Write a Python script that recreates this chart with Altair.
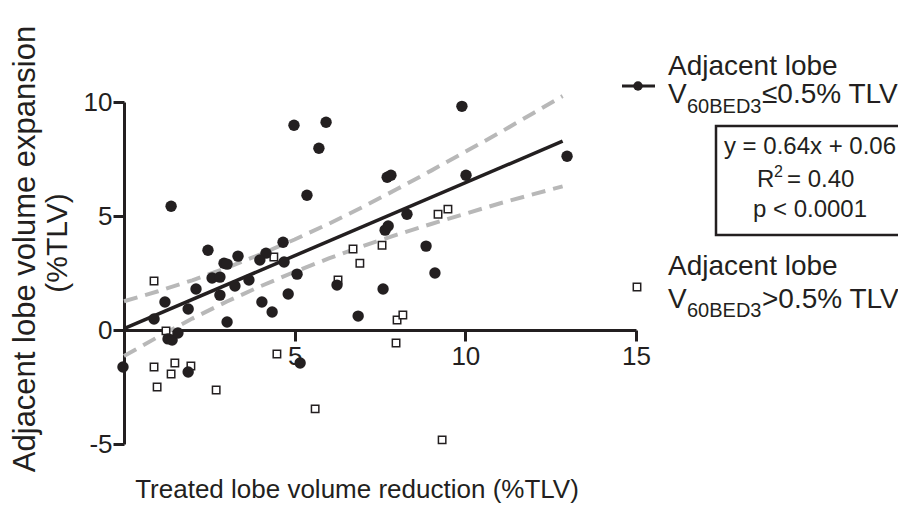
import altair as alt
import pandas as pd

FONT = "Liberation Sans"
INK = "#231f20"
GRAY = "#b8b8b8"

# Adjacent lobe V60BED3 <= 0.5% TLV (filled circles)
circle_x = [-0.03, 1.38, 4.98, 5.36, 5.92, 5.71, 9.90, 7.71, 7.82, 10.02, 12.98, 8.29,
            7.65, 7.74, 8.85, 6.24, 9.11, 7.59, 6.86, 2.46, 4.66, 3.34, 2.93, 3.02,
            4.16, 3.98, 4.69, 2.58, 2.81, 2.11, 3.25, 3.66, 2.81, 5.07, 4.81, 1.20,
            1.88, 4.04, 4.34, 0.88, 3.02, 1.29, 1.41, 1.58, 1.88, 5.16]
circle_y = [-1.62, 5.43, 8.98, 5.91, 9.11, 7.97, 9.81, 6.70, 6.79, 6.79, 7.62, 5.08,
            4.38, 4.56, 3.68, 1.97, 2.50, 1.80, 0.61, 3.50, 3.85, 3.24, 2.93, 2.89,
            3.37, 3.07, 2.98, 2.28, 2.32, 1.80, 1.93, 2.19, 1.53, 2.45, 1.58, 1.23,
            0.92, 1.23, 0.79, 0.48, 0.35, -0.39, -0.44, -0.13, -1.84, -1.45]

# Adjacent lobe V60BED3 > 0.5% TLV (open squares)
square_x = [0.88, 4.39, 6.71, 7.56, 6.91, 6.27, 8.00, 8.17, 7.97, 9.20, 9.49, 1.23,
            0.88, 1.49, 1.38, 1.96, 0.97, 2.70, 4.48, 5.60, 9.32]
square_y = [2.15, 3.20, 3.55, 3.72, 2.93, 2.19, 0.44, 0.66, -0.57, 5.08, 5.30, -0.04,
            -1.62, -1.45, -1.93, -1.58, -2.50, -2.63, -1.05, -3.46, -4.82]

# regression line and 95% confidence band
fit_x = [0, 12.85]
fit_y = [0.06, 8.28]
ci_x = [0, 1, 2, 3, 4, 5, 6, 7, 8, 9, 10, 11, 12, 12.85]
ci_upper = [1.26, 1.70, 2.18, 2.72, 3.32, 3.97, 4.66, 5.40, 6.18, 6.99, 7.82, 8.65, 9.52, 10.26]
ci_lower = [-1.14, -0.30, 0.50, 1.24, 1.92, 2.55, 3.14, 3.68, 4.18, 4.65, 5.10, 5.55, 5.96, 6.30]

x_ticks = [5, 10, 15]
y_ticks = [-5, 0, 5, 10]

W, H = 512, 342

xs = alt.Scale(domain=[0, 15], nice=False, zero=False)
ys = alt.Scale(domain=[-5, 10], nice=False, zero=False)

x_axis = alt.Axis(values=x_ticks, offset=-H / 3, title=None, grid=False,
                  domainColor=INK, domainWidth=3, tickColor=INK, tickWidth=3, tickSize=11,
                  labelFont=FONT, labelFontSize=26, labelColor=INK, labelPadding=2,
                  labelFlush=False)
y_axis = alt.Axis(values=y_ticks, title=None, grid=False,
                  labelExpr="'' + datum.value",
                  domainColor=INK, domainWidth=3, tickColor=INK, tickWidth=3, tickSize=11,
                  labelFont=FONT, labelFontSize=26, labelColor=INK, labelPadding=1,
                  labelFlush=False)

circles_df = pd.DataFrame({"x": circle_x, "y": circle_y})
squares_df = pd.DataFrame({"x": square_x, "y": square_y})
fit_df = pd.DataFrame({"x": fit_x, "y": fit_y})
ci_df = pd.DataFrame({"x": ci_x, "up": ci_upper, "lo": ci_lower})

upper = alt.Chart(ci_df).mark_line(color=GRAY, strokeWidth=4, strokeDash=[14, 8]).encode(
    x=alt.X("x:Q", scale=xs, axis=x_axis), y=alt.Y("up:Q", scale=ys, axis=y_axis))
lower = alt.Chart(ci_df).mark_line(color=GRAY, strokeWidth=4, strokeDash=[14, 8]).encode(
    x=alt.X("x:Q", scale=xs), y=alt.Y("lo:Q", scale=ys))
fit = alt.Chart(fit_df).mark_line(color=INK, strokeWidth=3.5).encode(
    x=alt.X("x:Q", scale=xs), y=alt.Y("y:Q", scale=ys))
squares = alt.Chart(squares_df).mark_point(shape="square", filled=True, fill="white",
                                           stroke=INK, strokeWidth=1.5, size=55, opacity=1).encode(
    x=alt.X("x:Q", scale=xs), y=alt.Y("y:Q", scale=ys))
circles = alt.Chart(circles_df).mark_circle(color=INK, size=130, opacity=1).encode(
    x=alt.X("x:Q", scale=xs), y=alt.Y("y:Q", scale=ys))


def txt(s, x, y, size, align="left", angle=0):
    return alt.Chart(pd.DataFrame({"t": [s]})).mark_text(
        align=align, baseline="alphabetic", fontSize=size, font=FONT, color=INK, angle=angle
    ).encode(x=alt.value(x), y=alt.value(y), text="t:N")


texts = [
    txt("Treated lobe volume reduction (%TLV)", 233, 396, 26, align="center"),
    txt("Adjacent lobe volume expansion", -89, 147, 31, align="center", angle=270),
    txt("(%TLV)", -57, 141, 30, align="center", angle=270),
    # legend 1
    txt("Adjacent lobe", 544, -27, 28),
    txt("V", 544, 1, 28),
    txt("60BED3", 563, 11, 20),
    txt("\u22640.5% TLV", 638, 1, 28),
    # stats box
    txt("y = 0.64x + 0.06", 686, 52, 24, align="center"),
    txt("R", 633, 85, 24),
    txt("2", 650, 75, 16),
    txt("= 0.40", 663, 85, 24),
    txt("p < 0.0001", 686, 115, 24, align="center"),
    # legend 2
    txt("Adjacent lobe", 544, 173, 28),
    txt("V", 544, 206, 28),
    txt("60BED3", 563, 215, 20),
    txt(">0.5% TLV", 638, 206, 28),
]

dummy = pd.DataFrame({"a": [0]})
leg_line = alt.Chart(dummy).mark_rule(color=INK, strokeWidth=3).encode(
    x=alt.value(498), x2=alt.value(531), y=alt.value(-16))
leg_dot = alt.Chart(dummy).mark_point(shape="circle", filled=True, color=INK, size=90, opacity=1).encode(
    x=alt.value(514), y=alt.value(-16))
leg_sq = alt.Chart(dummy).mark_point(shape="square", filled=True, fill="white", stroke=INK,
                                     strokeWidth=1.5, size=55, opacity=1).encode(
    x=alt.value(513), y=alt.value(185))
box = alt.Chart(dummy).mark_rect(fill=None, stroke=INK, strokeWidth=2.5).encode(
    x=alt.value(592), x2=alt.value(800), y=alt.value(24), y2=alt.value(133))

chart = alt.layer(upper, lower, fit, squares, circles, leg_line, leg_dot, leg_sq, box, *texts).properties(
    width=W, height=H,
    autosize=alt.AutoSizeParams(type="none"),
    padding={"left": 116, "top": 94, "right": 262, "bottom": 66},
).configure_view(stroke=None)

chart.save("out.html", embed_options={"renderer": "svg", "actions": False})
